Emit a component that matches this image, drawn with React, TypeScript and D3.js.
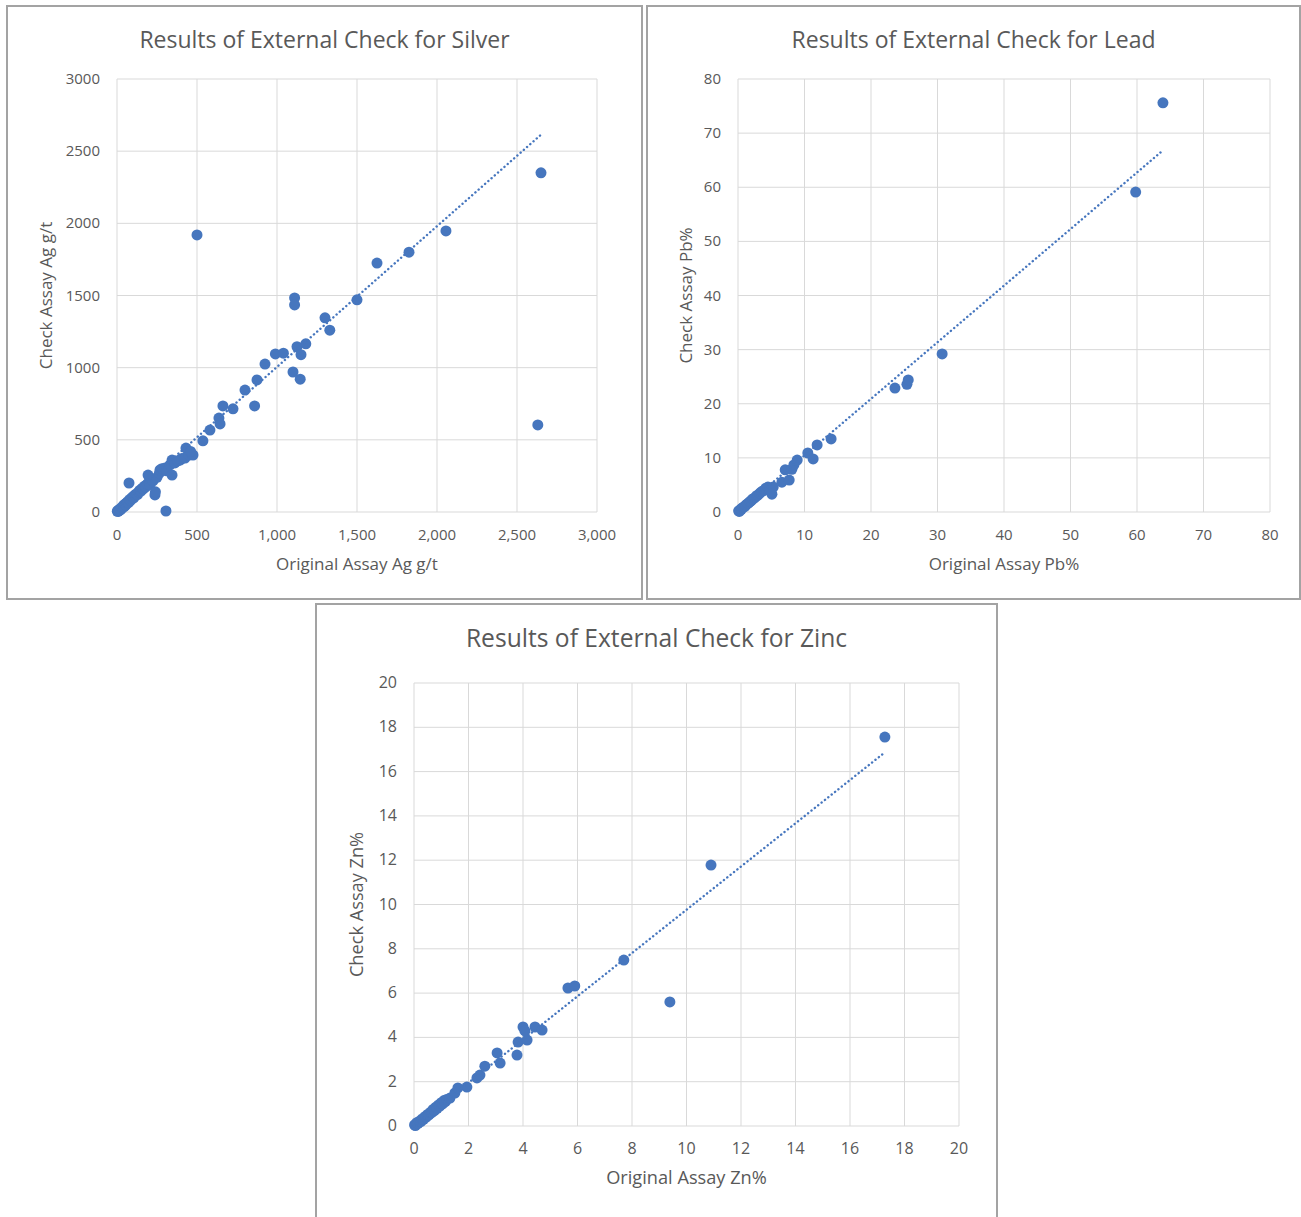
import * as d3 from 'd3'
import React from 'react'

// ---- data ----
const silverOriginal = [
  2, 5, 8, 12, 15, 20, 25, 28, 35, 40, 45, 50, 55, 60, 65, 72, 78, 85, 90, 98, 105, 112, 120, 128, 135, 142, 150,
  158, 165, 172, 180, 190, 200, 205, 215, 225, 75, 194, 237, 240, 306, 250, 265, 269, 280, 300, 310, 331, 344, 344,
  362, 380, 394, 405, 425, 431, 450, 475, 460, 537, 581, 637, 644, 662, 725, 860, 800, 875, 925, 990, 1040, 1100,
  1145, 1125, 1150, 1180, 1110, 1110, 1300, 1330, 1500, 1625, 1825, 2056, 500, 2650, 2630,
]
const silverCheck = [
  5, 10, 4, 15, 12, 22, 18, 30, 32, 45, 38, 55, 48, 62, 70, 65, 85, 80, 95, 105, 98, 118, 125, 120, 140, 150, 145,
  165, 160, 180, 175, 195, 205, 190, 225, 215, 201, 256, 118, 140, 7, 240, 270, 291, 300, 305, 285, 326, 360, 256,
  340, 355, 360, 370, 374, 443, 395, 395, 420, 493, 568, 651, 610, 735, 715, 735, 845, 915, 1025, 1095, 1100, 970,
  920, 1145, 1090, 1165, 1483, 1435, 1345, 1260, 1470, 1725, 1800, 1947, 1920, 2350, 603,
]
const silverTrend = [
  [0, 30],
  [2648, 2612],
]

const leadOriginal = [
  0.1, 0.2, 0.3, 0.5, 0.6, 0.8, 1.0, 1.2, 1.4, 1.6, 1.8, 2.0, 2.2, 2.5, 2.8, 3.0, 3.3, 3.6, 3.9, 4.2, 4.5, 4.8, 5.3,
  5.1, 6.6, 7.7, 7.1, 8.1, 8.4, 8.9, 10.5, 11.3, 11.9, 14.0, 23.6, 25.4, 25.6, 30.7, 59.8, 63.9,
]
const leadCheck = [
  0.2, 0.1, 0.4, 0.5, 0.7, 0.9, 1.0, 1.3, 1.5, 1.7, 1.9, 2.1, 2.4, 2.6, 3.0, 3.1, 3.5, 3.8, 4.0, 4.4, 4.6, 4.1, 4.6,
  3.3, 5.5, 5.9, 7.8, 7.9, 8.7, 9.6, 10.9, 9.8, 12.4, 13.5, 22.9, 23.6, 24.4, 29.2, 59.1, 75.6,
]
const leadTrend = [
  [0, 0],
  [63.7, 66.6],
]

const zincOriginal = [
  0.02, 0.05, 0.08, 0.1, 0.15, 0.2, 0.25, 0.3, 0.35, 0.4, 0.45, 0.5, 0.55, 0.6, 0.65, 0.7, 0.75, 0.8, 0.85, 0.9,
  0.95, 1.0, 1.05, 1.1, 1.15, 1.2, 1.32, 1.5, 1.61, 1.94, 2.31, 2.42, 2.6, 3.05, 3.16, 3.78, 3.82, 4.15, 4.0, 4.07,
  4.44, 4.7, 5.65, 5.9, 7.7, 9.39, 10.9, 17.28,
]
const zincCheck = [
  0.05, 0.02, 0.1, 0.15, 0.12, 0.22, 0.2, 0.32, 0.3, 0.42, 0.4, 0.52, 0.5, 0.62, 0.6, 0.75, 0.7, 0.85, 0.8, 0.95,
  0.9, 1.05, 1.0, 1.15, 1.1, 1.2, 1.26, 1.49, 1.72, 1.76, 2.17, 2.3, 2.7, 3.3, 2.84, 3.2, 3.79, 3.88, 4.47, 4.29,
  4.47, 4.33, 6.23, 6.32, 7.49, 5.6, 11.78, 17.56,
]
const zincTrend = [
  [0, 0],
  [17.28, 16.87],
]

const silverTicks = [0, 500, 1000, 1500, 2000, 2500, 3000]
const leadTicks = [0, 10, 20, 30, 40, 50, 60, 70, 80]
const zincTicks = [0, 2, 4, 6, 8, 10, 12, 14, 16, 18, 20]

const FONT = '"Open Sans", "Noto Sans", sans-serif'
const TEXT_COLOR = '#595959'
const GRID_COLOR = '#d9d9d9'
const DOT_COLOR = '#4676be'

const Panel = ({ frame, plot, title, xTitle, yTitle, xs, ys, trend, ticks, xFormat, yFormat, fontScale = 1 }) => {
  const x = d3.scaleLinear().domain([ticks[0], ticks[ticks.length - 1]]).range([plot.x0, plot.x1])
  const y = d3.scaleLinear().domain([ticks[0], ticks[ticks.length - 1]]).range([plot.y1, plot.y0])
  const trendPath = d3
    .line()
    .x(d => x(d[0]))
    .y(d => y(d[1]))(trend)
  const cx = (frame.x0 + frame.x1) / 2
  const tickSize = 15 * fontScale
  const axisSize = 17 * fontScale

  return (
    <g>
      <rect
        x={frame.x0}
        y={frame.y0}
        width={frame.x1 - frame.x0}
        height={frame.y1 - frame.y0}
        fill="#fff"
        stroke="#a3a3a3"
        strokeWidth={2}
      />
      <text x={cx} y={frame.y0 + 42 + (fontScale - 1) * 20} textAnchor="middle" fontSize={23 * fontScale} fill={TEXT_COLOR}>
        {title}
      </text>

      {/* grid */}
      {ticks.map(t => (
        <g key={'g' + t}>
          <line x1={x(t)} x2={x(t)} y1={plot.y0} y2={plot.y1} stroke={GRID_COLOR} strokeWidth={1} />
          <line x1={plot.x0} x2={plot.x1} y1={y(t)} y2={y(t)} stroke={GRID_COLOR} strokeWidth={1} />
        </g>
      ))}

      {/* tick labels */}
      {ticks.map(t => (
        <text key={'x' + t} x={x(t)} y={plot.y1 + 28} textAnchor="middle" fontSize={tickSize} fill={TEXT_COLOR}>
          {xFormat(t)}
        </text>
      ))}
      {ticks.map(t => (
        <text key={'y' + t} x={plot.x0 - 17} y={y(t) + 5} textAnchor="end" fontSize={tickSize} fill={TEXT_COLOR}>
          {yFormat(t)}
        </text>
      ))}

      {/* axis titles */}
      <text x={(plot.x0 + plot.x1) / 2} y={plot.y1 + 58} textAnchor="middle" fontSize={axisSize} fill={TEXT_COLOR}>
        {xTitle}
      </text>
      <text
        transform={`translate(${plot.yTitleX},${(plot.y0 + plot.y1) / 2}) rotate(-90)`}
        textAnchor="middle"
        fontSize={axisSize}
        fill={TEXT_COLOR}
      >
        {yTitle}
      </text>

      {/* points */}
      {xs.map((v, i) => (
        <circle key={'p' + i} cx={x(v)} cy={y(ys[i])} r={5.5} fill={DOT_COLOR} />
      ))}

      {/* linear trendline */}
      <path
        d={trendPath}
        fill="none"
        stroke={DOT_COLOR}
        strokeWidth={2.4}
        strokeDasharray="0.1 4.2"
        strokeLinecap="round"
      />
    </g>
  )
}

export default function App() {
  const plain = d3.format('d')
  const comma = d3.format(',')
  return (
    <svg
      width={1301}
      height={1217}
      style={{ position: 'absolute', left: 0, top: 0, display: 'block', fontFamily: FONT, background: '#fff' }}
    >
      <Panel
        frame={{ x0: 7, y0: 6, x1: 642, y1: 599 }}
        plot={{ x0: 117, x1: 597, y0: 79, y1: 512, yTitleX: 52 }}
        title="Results of External Check for Silver"
        xTitle="Original Assay Ag g/t"
        yTitle="Check Assay Ag g/t"
        xs={silverOriginal}
        ys={silverCheck}
        trend={silverTrend}
        ticks={silverTicks}
        xFormat={comma}
        yFormat={plain}
      />
      <Panel
        frame={{ x0: 647, y0: 6, x1: 1300, y1: 599 }}
        plot={{ x0: 738, x1: 1270, y0: 79, y1: 512, yTitleX: 692 }}
        title="Results of External Check for Lead"
        xTitle="Original Assay Pb%"
        yTitle="Check Assay Pb%"
        xs={leadOriginal}
        ys={leadCheck}
        trend={leadTrend}
        ticks={leadTicks}
        xFormat={plain}
        yFormat={plain}
      />
      <Panel
        frame={{ x0: 316, y0: 604, x1: 997, y1: 1222 }}
        plot={{ x0: 414, x1: 959, y0: 683, y1: 1126, yTitleX: 363 }}
        title="Results of External Check for Zinc"
        xTitle="Original Assay Zn%"
        yTitle="Check Assay Zn%"
        xs={zincOriginal}
        ys={zincCheck}
        trend={zincTrend}
        ticks={zincTicks}
        xFormat={plain}
        yFormat={plain}
        fontScale={1.07}
      />
    </svg>
  )
}
